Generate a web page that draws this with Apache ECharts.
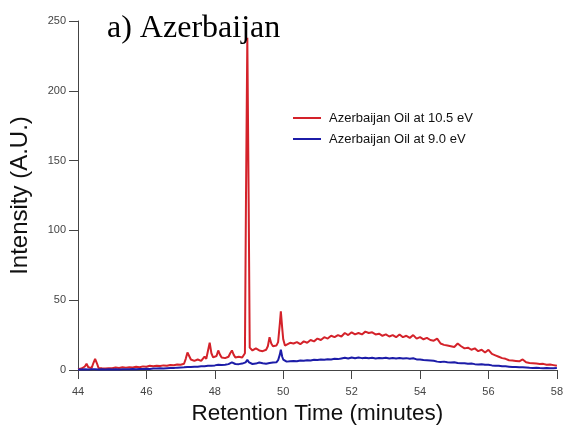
<!DOCTYPE html>
<html>
<head>
<meta charset="utf-8">
<script src="https://cdn.jsdelivr.net/npm/echarts@6/dist/echarts.min.js"></script>
<style>html,body{margin:0;padding:0;background:#fff}#c{width:566px;height:430px}</style>
</head>
<body>
<div id="c"></div>
<script>
const titleText = 'a) Azerbaijan';
const xName = 'Retention Time (minutes)';
const yName = 'Intensity (A.U.)';
const seriesNames = ['Azerbaijan Oil at 10.5 eV', 'Azerbaijan Oil at 9.0 eV'];
const xTicks = [44, 46, 48, 50, 52, 54, 56, 58];
const yTicks = [0, 50, 100, 150, 200, 250];

// Retention time (min), intensity (A.U.)
const red105 = [
[44.0,0.5],[44.1,1.0],[44.2,2.5],[44.25,4.5],[44.3,2.0],[44.4,1.5],[44.45,5],[44.5,8],[44.55,5],[44.6,1.5],
[44.7,1.2],[44.8,1.0],[44.9,1.3],[45.0,1.2],[45.1,1.8],[45.2,1.5],[45.3,2.0],[45.4,1.7],[45.5,2.0],[45.6,1.8],
[45.7,2.3],[45.8,2.0],[45.9,2.6],[46.0,2.3],[46.1,3.0],[46.2,2.7],[46.3,3.1],[46.4,2.8],[46.5,3.3],[46.6,3.0],
[46.7,3.6],[46.8,3.4],[46.9,4.0],[47.0,3.8],[47.1,4.5],[47.15,8],[47.2,12.5],[47.25,10],[47.3,7.5],[47.4,6.5],
[47.5,7.5],[47.6,6.5],[47.7,9.5],[47.75,8],[47.8,9],[47.85,19.5],[47.9,12],[47.95,9],[48.0,8.5],[48.05,10],
[48.1,14],[48.15,11],[48.2,9],[48.3,8.5],[48.4,9.5],[48.45,12],[48.5,14],[48.55,11],[48.6,9],[48.7,9.5],
[48.8,9.0],[48.88,12],[48.91,120],[48.95,238],[48.99,120],[49.02,16],[49.1,14],[49.2,15.5],[49.3,14],[49.4,13.5],
[49.5,14.5],[49.55,17],[49.6,23.5],[49.65,19],[49.7,17],[49.8,17.5],[49.85,20],[49.9,33],[49.93,42],[49.97,30],
[50.0,22],[50.05,17.5],[50.1,18],[50.2,19.5],[50.3,19],[50.4,20],[50.5,18.5],[50.6,20.5],[50.7,19.5],[50.8,21.5],
[50.9,20.5],[51.0,22.5],[51.1,21.5],[51.2,23.5],[51.3,22.5],[51.4,24.5],[51.5,23.5],[51.6,25],[51.7,24],[51.8,26.5],
[51.9,25],[52.0,27],[52.1,25.5],[52.2,26.5],[52.3,25.5],[52.4,27.5],[52.5,26.5],[52.6,27],[52.7,25.5],[52.8,26],
[52.9,24.5],[53.0,25.5],[53.1,24],[53.2,25],[53.3,23.5],[53.4,25.5],[53.5,23.5],[53.6,24.5],[53.7,23],[53.8,25],
[53.9,22.5],[54.0,23.5],[54.1,22],[54.2,23],[54.3,21.5],[54.4,21],[54.5,22.5],[54.6,19],[54.7,18],[54.8,17.5],
[54.9,17],[55.0,16.5],[55.1,19],[55.2,17],[55.3,15.5],[55.4,16],[55.5,14.5],[55.6,15.5],[55.7,13.5],[55.8,14.5],
[55.9,12.5],[56.0,14.5],[56.1,11.5],[56.2,10.5],[56.3,9.5],[56.4,8.5],[56.5,8],[56.6,7],[56.7,6.8],[56.8,6.5],
[56.9,6.2],[57.0,7.6],[57.1,5.5],[57.2,5],[57.3,4.8],[57.4,4.6],[57.5,4.3],[57.6,4.4],[57.7,3.8],[57.8,4.0],
[57.9,3.5],[58.0,3.0]
];

const blue90 = [
[44.0,0.3],[44.1,0.4],[44.2,0.6],[44.3,0.4],[44.4,0.5],[44.5,0.6],[44.6,0.4],[44.7,0.5],[44.8,0.3],[44.9,0.5],
[45.0,0.4],[45.1,0.6],[45.2,0.4],[45.3,0.5],[45.4,0.6],[45.5,0.5],[45.6,0.7],[45.7,0.6],[45.8,0.8],[45.9,0.7],
[46.0,0.9],[46.1,0.8],[46.2,1.0],[46.3,1.0],[46.4,1.2],[46.5,1.1],[46.6,1.3],[46.7,1.4],[46.8,1.5],[46.9,1.7],
[47.0,1.8],[47.1,1.9],[47.2,2.2],[47.3,2.1],[47.4,2.3],[47.5,2.4],[47.6,2.6],[47.7,2.7],[47.8,3.0],[47.9,3.1],
[48.0,3.3],[48.1,3.8],[48.2,3.5],[48.3,3.8],[48.4,4.2],[48.5,5.5],[48.6,4.3],[48.7,4.2],[48.8,4.6],[48.9,5.5],
[48.95,7.2],[49.0,5.5],[49.1,4.3],[49.2,4.6],[49.3,5.4],[49.4,4.8],[49.5,4.5],[49.6,5.0],[49.7,5.3],[49.8,5.5],
[49.85,7],[49.9,11],[49.93,14.5],[49.97,9.5],[50.0,7.5],[50.1,6.0],[50.2,6.3],[50.3,6.5],[50.4,6.3],[50.5,6.8],
[50.6,6.6],[50.7,7.0],[50.8,6.8],[50.9,7.3],[51.0,7.1],[51.1,7.5],[51.2,7.3],[51.3,7.7],[51.4,7.6],[51.5,8.0],
[51.6,7.8],[51.7,8.3],[51.8,8.8],[51.9,8.2],[52.0,8.9],[52.1,8.4],[52.2,8.9],[52.3,8.5],[52.4,8.8],[52.5,8.4],
[52.6,8.7],[52.7,8.3],[52.8,8.6],[52.9,8.4],[53.0,8.7],[53.1,8.3],[53.2,8.6],[53.3,8.2],[53.4,8.6],[53.5,8.3],
[53.6,8.5],[53.7,8.0],[53.8,8.4],[53.9,7.6],[54.0,7.6],[54.1,7.2],[54.2,7.0],[54.3,6.8],[54.4,6.6],[54.5,6.0],
[54.6,5.8],[54.7,6.0],[54.8,5.6],[54.9,5.4],[55.0,5.5],[55.1,5.0],[55.2,4.8],[55.3,4.9],[55.4,4.5],[55.5,4.6],
[55.6,4.2],[55.7,4.0],[55.8,4.1],[55.9,3.7],[56.0,3.8],[56.1,3.3],[56.2,3.0],[56.3,3.1],[56.4,2.7],[56.5,2.6],
[56.6,2.4],[56.7,2.2],[56.8,2.1],[56.9,1.9],[57.0,2.0],[57.1,1.8],[57.2,1.6],[57.3,1.5],[57.4,1.6],[57.5,1.4],
[57.6,1.3],[57.7,1.4],[57.8,1.2],[57.9,1.3],[58.0,1.4]
];

const chart = echarts.init(document.getElementById('c'), null, {renderer: 'canvas'});
const axisColor = '#444';
const labelColor = '#444';
chart.setOption({
  animation: false,
  backgroundColor: '#fff',
  title: {
    text: titleText, left: 102, top: 8,
    textStyle: {fontFamily: '"Liberation Serif", "Times New Roman", serif', fontSize: 32, fontWeight: 'normal', color: '#000'}
  },
  legend: {
    orient: 'vertical', left: 288, top: 105, itemWidth: 28, itemHeight: 2, itemGap: 5,
    icon: 'rect',
    textStyle: {fontFamily: '"Liberation Sans", Arial, sans-serif', fontSize: 13, color: '#111', lineHeight: 16, padding: [0,0,0,3]},
    data: seriesNames
  },
  grid: {left: 78, right: 8, top: 21, bottom: 60},
  xAxis: {
    type: 'value', min: xTicks[0], max: xTicks[xTicks.length-1], interval: 2,
    name: xName, nameLocation: 'middle', nameGap: 31,
    nameTextStyle: {fontFamily: '"Liberation Sans", Arial, sans-serif', fontSize: 22.5, color: '#111'},
    axisLine: {show: true, lineStyle: {color: axisColor, width: 1}},
    axisTick: {show: true, length: 9, lineStyle: {color: axisColor}},
    axisLabel: {margin: 16, fontSize: 11, color: labelColor, fontFamily: '"Liberation Sans", Arial, sans-serif'},
    splitLine: {show: false}
  },
  yAxis: {
    type: 'value', min: yTicks[0], max: yTicks[yTicks.length-1], interval: 50,
    name: yName, nameLocation: 'middle', nameGap: 46,
    nameTextStyle: {fontFamily: '"Liberation Sans", Arial, sans-serif', fontSize: 24, color: '#111'},
    axisLine: {show: true, lineStyle: {color: axisColor, width: 1}},
    axisTick: {show: true, length: 9, lineStyle: {color: axisColor}},
    axisLabel: {margin: 12, fontSize: 11, color: labelColor, fontFamily: '"Liberation Sans", Arial, sans-serif'},
    splitLine: {show: false}
  },
  series: [
    {name: seriesNames[0], type: 'line', data: red105, showSymbol: false, lineStyle: {color: '#d4222a', width: 2}, itemStyle: {color: '#d4222a'}, z: 3},
    {name: seriesNames[1], type: 'line', data: blue90, showSymbol: false, lineStyle: {color: '#1c1ca8', width: 2}, itemStyle: {color: '#1c1ca8'}, z: 4}
  ]
});
</script>
</body>
</html>
